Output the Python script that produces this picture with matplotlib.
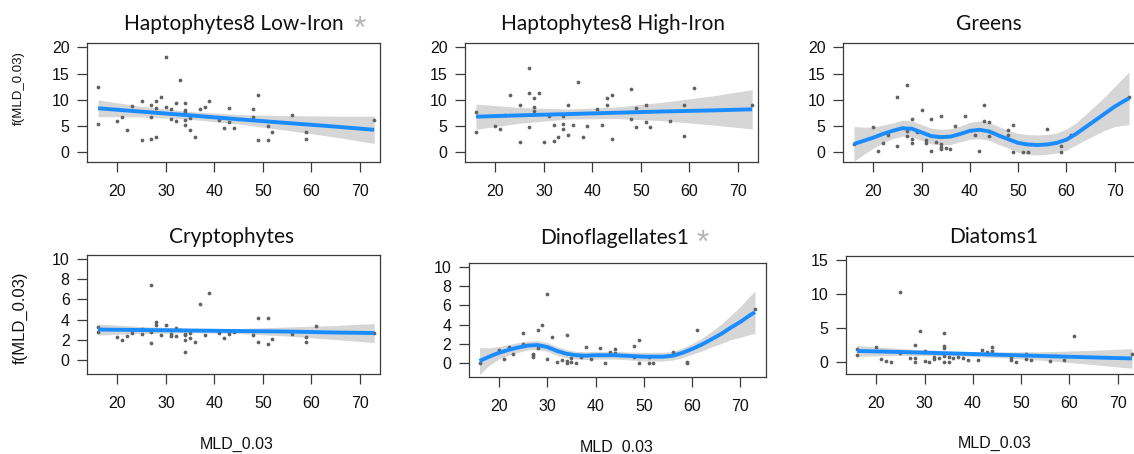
import matplotlib
matplotlib.use('Agg')
import matplotlib.pyplot as plt
import numpy as np

W, H = 1134, 454

# ---------------- data ----------------
# Panel 1: Haptophytes8 Low-Iron
hlow_x = [16,16,20,21,22,23,25,25,27,27,27,28,28,28,29,30,30,31,31,32,32,33,34,34,34,34,34,35,35,36,37,38,39,41,42,43,43,44,48,48,49,49,51,51,52,56,59,59,73]
hlow_y = [12.4,5.4,5.9,6.7,4.2,8.9,9.7,2.3,9.0,6.7,2.6,9.7,8.5,3.0,10.6,18.1,8.6,8.2,6.4,9.5,5.9,13.8,9.5,8.0,7.7,6.1,5.2,6.6,4.3,3.0,8.3,8.7,9.7,6.1,4.6,8.5,5.8,4.6,8.3,6.8,11.0,2.3,5.1,2.4,3.9,7.2,3.9,2.6,6.1]
lin_grid = [16, 25, 35, 45, 55, 65, 73]
hlow_fit = [8.4, 7.75, 7.05, 6.3, 5.6, 4.9, 4.3]
hlow_lo = [6.8, 6.75, 6.3, 5.4, 4.2, 2.9, 1.7]
hlow_hi = [10.0, 8.75, 7.8, 7.2, 7.0, 6.9, 6.9]

# Panel 2: Haptophytes8 High-Iron
hhigh_x = [16,16,20,21,22,23,25,25,27,27,27,28,28,28,29,30,31,32,32,33,34,34,34,35,35,36,37,38,39,41,42,43,43,44,44,48,48,49,49,51,51,52,56,59,59,61,73]
hhigh_y = [7.6,3.8,5.1,4.4,7.2,11.0,9.0,1.9,16.0,11.4,4.9,10.3,8.6,7.9,11.4,1.9,6.9,5.3,2.2,2.9,7.0,5.4,4.4,9.1,3.4,5.2,13.4,3.0,5.1,8.2,5.2,10.3,9.0,11.0,2.5,12.1,6.4,8.5,4.8,9.0,5.8,4.8,5.9,9.0,3.2,12.3,9.0]
hhigh_fit = [6.8, 7.05, 7.3, 7.55, 7.8, 8.0, 8.2]
hhigh_lo = [4.4, 5.55, 6.35, 6.45, 6.0, 5.2, 4.45]
hhigh_hi = [9.2, 8.55, 8.25, 8.65, 9.6, 10.8, 11.95]

# Panel 3: Greens
green_x = [16,20,21,22,23,25,25,27,27,27,28,28,28,29,30,31,31,32,32,33,34,34,34,34,35,36,37,39,41,42,43,43,44,44,48,48,49,49,51,52,56,59,59,61,73]
green_y = [1.6,4.9,0.2,1.7,3.4,10.6,1.3,12.8,4.0,3.2,6.4,2.5,1.7,3.9,8.0,2.3,1.7,6.4,0.2,2.0,6.9,1.5,1.1,0.6,0.8,0.6,5.1,6.9,3.3,0.3,9.0,6.0,5.7,3.1,4.3,3.4,5.2,0.1,0.1,0.1,4.5,1.3,0.1,3.4,10.5]
curve_grid = [16,18,20,22,24,26,28,30,32,34,36,38,40,42,44,46,48,50,52,54,56,58,60,62,64,66,68,70,72,73]
green_fit = [1.6,2.2,2.8,3.5,4.1,4.6,4.5,3.8,3.1,2.9,3.0,3.5,4.1,4.3,4.0,3.2,2.5,1.8,1.5,1.4,1.5,1.8,2.4,3.5,4.8,6.1,7.4,8.7,9.8,10.3]
green_se = [3.3,2.6,2.0,1.7,1.5,1.5,1.5,1.5,1.5,1.5,1.5,1.5,1.6,1.7,1.7,1.7,1.7,1.8,1.9,1.9,1.9,1.9,2.0,2.1,2.4,2.8,3.2,3.8,4.6,5.0]

# Panel 4: Cryptophytes
crypto_x = [16,16,20,21,22,23,25,25,27,27,27,28,28,29,30,31,31,32,32,33,34,34,34,34,35,35,36,37,38,39,41,42,43,43,44,48,48,49,49,51,51,52,56,59,59,61,73]
crypto_y = [3.25,2.8,2.3,2.0,2.4,2.7,3.1,2.55,7.4,2.75,1.7,3.8,3.5,2.45,3.5,2.6,2.4,3.2,2.35,3.0,2.6,2.5,1.95,0.75,2.7,2.2,1.8,5.5,2.5,6.6,2.7,2.2,2.85,2.55,2.8,2.9,2.5,4.2,1.8,4.2,1.6,2.1,2.6,2.3,1.8,3.4,2.7]
crypto_fit = [3.0, 2.95, 2.9, 2.85, 2.8, 2.7, 2.65]
crypto_lo = [2.45, 2.6, 2.68, 2.6, 2.35, 2.0, 1.7]
crypto_hi = [3.55, 3.3, 3.12, 3.1, 3.25, 3.4, 3.6]

# Panel 5: Dinoflagellates1
dino_x = [16,20,21,22,23,25,25,27,27,27,28,28,29,30,30,31,32,33,34,34,34,35,35,36,37,38,39,41,42,43,44,44,48,48,49,49,51,51,52,56,59,59,61,73]
dino_y = [0.07,1.4,0.45,1.7,1.0,3.1,2.0,1.0,0.85,0.7,3.5,1.6,4.0,7.2,0.5,2.75,0.15,0.35,2.9,0.25,0.05,0.6,0.15,0.0,0.7,1.7,0.5,1.6,0.0,1.2,1.45,1.1,1.8,0.7,2.45,0.05,0.65,0.0,0.0,1.2,0.15,0.0,3.5,5.6]
dino_fit = [0.25,0.7,1.1,1.4,1.65,1.85,1.9,1.7,1.3,1.0,0.85,0.8,0.85,0.85,0.85,0.8,0.75,0.7,0.7,0.7,0.8,1.1,1.5,1.95,2.5,3.05,3.7,4.3,5.0,5.3]
dino_se = [1.4,0.9,0.65,0.55,0.5,0.45,0.45,0.45,0.45,0.42,0.4,0.4,0.4,0.4,0.4,0.4,0.42,0.45,0.45,0.45,0.45,0.5,0.55,0.65,0.8,1.0,1.25,1.6,2.0,2.2]

# Panel 6: Diatoms1
diat_x = [16,16,20,21,22,23,25,25,27,28,28,28,29,30,30,31,32,32,33,34,34,34,34,34,35,35,36,37,38,39,41,42,43,44,44,48,48,49,51,51,52,56,59,61,73]
diat_y = [2.0,1.0,2.2,0.4,0.2,0.05,10.3,1.4,0.6,2.6,0.55,0.1,4.6,1.6,0.15,0.05,0.8,0.4,0.55,4.25,2.35,2.15,0.9,0.05,0.8,0.05,0.6,0.7,0.6,0.35,0.35,1.85,1.55,2.2,1.65,0.65,0.25,0.1,1.2,0.45,0.35,0.2,0.25,3.8,1.2]
diat_fit = [1.65, 1.5, 1.3, 1.1, 0.9, 0.7, 0.55]
diat_lo = [0.85, 1.0, 0.95, 0.7, 0.25, -0.35, -0.9]
diat_hi = [2.45, 2.0, 1.65, 1.5, 1.55, 1.75, 2.0]

titles = ["Haptophytes8 Low-Iron", "Haptophytes8 High-Iron", "Greens",
          "Cryptophytes", "Dinoflagellates1", "Diatoms1"]
starred = [True, False, False, False, True, False]
xticks = [20, 30, 40, 50, 60, 70]
yticks_list = [[0, 5, 10, 15, 20], [0, 5, 10, 15, 20], [0, 5, 10, 15, 20],
               [0, 2, 4, 6, 8, 10], [0, 2, 4, 6, 8, 10], [0, 5, 10, 15]]
ylims = [(-1.84, 20.84), (-1.84, 20.84), (-1.84, 20.84),
         (-1.44, 10.44), (-1.4, 10.38), (-1.74, 15.64)]
ylabel = "f(MLD_0.03)"
xlabel = "MLD_0.03"

# ---------------- layout (pixel boxes: left, right, top, bottom, xmax) ----------------
boxes = [(87, 380, 43, 162, 74.2), (465, 758, 43, 162, 74.2), (843, 1140, 43, 162, 75.28),
         (87, 380, 255, 374, 74.2), (468.5, 766, 263, 377, 75.28), (846, 1143, 256, 374, 75.28)]
title_pos = [(234, 30), (613, 30), (989, 30), (232, 243), (614.5, 243.5), (994, 243)]
star_pos = [359.5, None, None, None, 702.5, None]

fig = plt.figure(figsize=(W / 100, H / 100), dpi=100)
fig.patch.set_facecolor('white')

BLUE = '#1a8cff'
BAND = '#d6d6d6'
PT = '#626262'
EDGE = '#3a3a3a'

panels = [
    (hlow_x, hlow_y, lin_grid, hlow_fit, hlow_lo, hlow_hi),
    (hhigh_x, hhigh_y, lin_grid, hhigh_fit, hhigh_lo, hhigh_hi),
    (green_x, green_y, curve_grid, green_fit,
     list(np.array(green_fit) - np.array(green_se)), list(np.array(green_fit) + np.array(green_se))),
    (crypto_x, crypto_y, lin_grid, crypto_fit, crypto_lo, crypto_hi),
    (dino_x, dino_y, curve_grid, dino_fit,
     list(np.array(dino_fit) - np.array(dino_se)), list(np.array(dino_fit) + np.array(dino_se))),
    (diat_x, diat_y, lin_grid, diat_fit, diat_lo, diat_hi),
]

for i, (px, py, gx, fit, lo, hi) in enumerate(panels):
    l, r, t, b, xmax = boxes[i]
    ax = fig.add_axes([l / W, 1 - b / H, (r - l) / W, (b - t) / H])
    ax.fill_between(gx, lo, hi, color=BAND, lw=0, zorder=1)
    ax.plot(px, py, 'o', ms=2.7, color=PT, mec='none', zorder=2)
    ax.plot(gx, fit, color=BLUE, lw=2.8, solid_capstyle='butt', zorder=3)
    ax.set_xlim(13.72, xmax)
    ax.set_ylim(*ylims[i])
    ax.set_xticks(xticks)
    ax.set_yticks(yticks_list[i])
    for s in ax.spines.values():
        s.set_color(EDGE)
        s.set_linewidth(0.9)
    ax.tick_params(axis='both', direction='out', length=7, width=0.9, color=EDGE,
                   labelcolor='#111111')
    ax.tick_params(axis='x', pad=9, labelsize=11.5)
    ax.tick_params(axis='y', pad=5.5, labelsize=11.5)
    for lab in ax.get_xticklabels() + ax.get_yticklabels():
        lab.set_fontfamily('Liberation Sans')
    tx, ty = title_pos[i]
    fig.text(tx / W, 1 - ty / H, titles[i], ha='center', va='baseline',
             fontsize=15, family='Lato', color='#111111')
    if starred[i]:
        fig.text(star_pos[i] / W, 1 - (ty + 8) / H, '*', ha='center', va='baseline',
                 fontsize=23, family='Liberation Sans', color='#b4b4b4')

# y labels (left column)
fig.text(19 / W, 1 - 88 / H, ylabel, rotation=90, ha='center', va='center',
         fontsize=9.5, family='Liberation Sans', color='#111111')
fig.text(20 / W, 1 - 318 / H, ylabel, rotation=90, ha='center', va='center',
         fontsize=12, family='Liberation Sans', color='#111111')
# x labels (bottom row)
for cx, cy in [(236.5, 444), (617, 447), (995, 443)]:
    fig.text(cx / W, 1 - cy / H, xlabel, ha='center', va='center',
             fontsize=11.5, family='Liberation Sans', color='#111111')

fig.savefig('out.png', dpi=100, facecolor='white')
